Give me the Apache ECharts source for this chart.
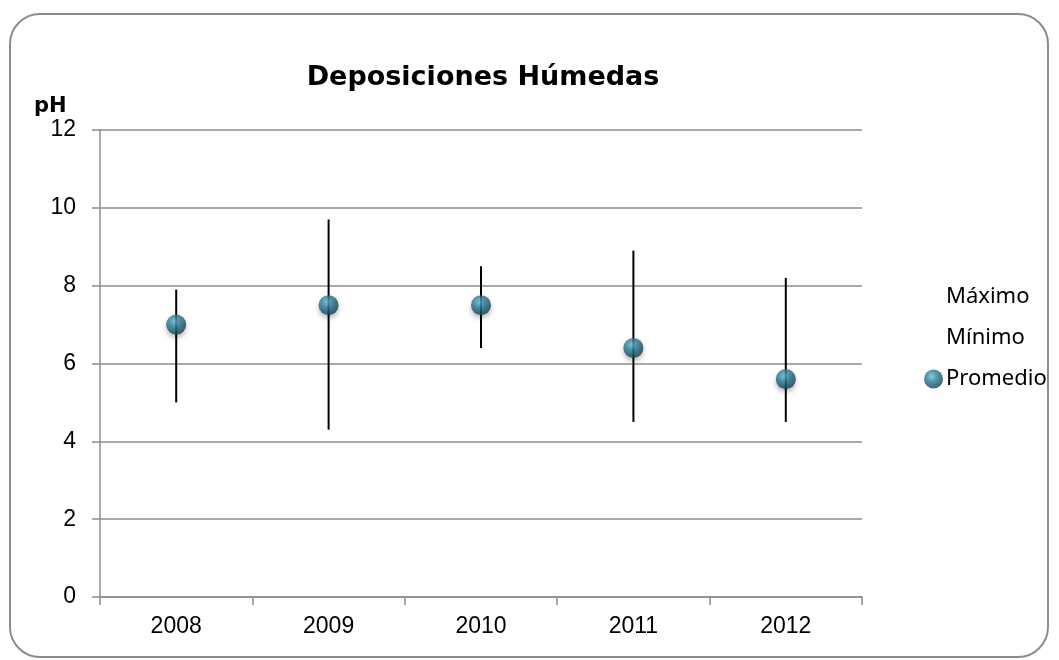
<!DOCTYPE html>
<html>
<head>
<meta charset="utf-8">
<script src="https://cdn.jsdelivr.net/npm/echarts@6/dist/echarts.min.js"></script>
<style>
  html, body { margin: 0; padding: 0; background: #fff; }
  #chart { width: 1059px; height: 660px; }
</style>
</head>
<body>
<div id="chart"></div>
<script>
// datos
var years = ['2008', '2009', '2010', '2011', '2012']
var maximo = [7.9, 9.7, 8.5, 8.9, 8.2]
var minimo = [5.0, 4.3, 6.4, 4.5, 4.5]
var promedio = [7.0, 7.5, 7.5, 6.4, 5.6]

var chart = echarts.init(document.getElementById('chart'))

var gris = '#8c8c8c'
var esfera = new echarts.graphic.RadialGradient(0.4, 0.35, 0.65, [
    { offset: 0, color: '#6fbcd3' },
    { offset: 0.45, color: '#287b96' },
    { offset: 1, color: '#143f4f' }
])

var option = {
    backgroundColor: '#fff',
    animation: false,
    graphic: [{
        type: 'rect',
        shape: { x: 10, y: 14, width: 1038, height: 643, r: 30 },
        style: { fill: 'none', stroke: gris, lineWidth: 2 },
        silent: true
    }],
    title: [{
        text: 'Deposiciones Húmedas',
        left: 478,
        top: 59,
        textAlign: 'center',
        textStyle: { fontFamily: 'DejaVu Sans', fontWeight: 'bold', fontSize: 27, color: '#000' }
    }, {
        text: 'pH',
        left: 29,
        top: 91,
        textStyle: { fontFamily: 'DejaVu Sans', fontWeight: 'bold', fontSize: 21, color: '#000' }
    }],
    legend: {
        orient: 'vertical',
        left: 924,
        top: 286,
        padding: 0,
        itemWidth: 19,
        itemHeight: 19,
        itemGap: 19,
        textStyle: { fontFamily: 'Noto Sans', fontSize: 22, color: '#000', padding: [0, 0, 0, -2] },
        data: [
            { name: 'Máximo', icon: 'none' },
            { name: 'Mínimo', icon: 'none' },
            { name: 'Promedio', icon: 'circle' }
        ]
    },
    grid: { left: 100, right: 197, top: 130, bottom: 63 },
    xAxis: {
        type: 'category',
        data: years,
        boundaryGap: true,
        axisLine: { lineStyle: { color: gris, width: 1.5 } },
        axisTick: { show: true, length: 8, lineStyle: { color: gris, width: 1.5 } },
        axisLabel: { fontFamily: 'Liberation Sans', fontSize: 23, color: '#000', margin: 18 }
    },
    yAxis: {
        type: 'value',
        min: 0,
        max: 12,
        interval: 2,
        axisLine: { show: true, lineStyle: { color: gris, width: 1.5 } },
        axisTick: { show: true, length: 8, lineStyle: { color: gris, width: 1.5 } },
        axisLabel: { fontFamily: 'Liberation Sans', fontSize: 23, color: '#000', margin: 24 },
        splitLine: { lineStyle: { color: gris, width: 1.5 } }
    },
    series: [
        {
            name: 'Máximo',
            type: 'line',
            data: maximo,
            showSymbol: false,
            lineStyle: { opacity: 0 },
            itemStyle: { color: 'transparent' }
        },
        {
            name: 'Mínimo',
            type: 'line',
            data: minimo,
            showSymbol: false,
            lineStyle: { opacity: 0 },
            itemStyle: { color: 'transparent' }
        },
        {
            // lineas maximo-minimo
            type: 'custom',
            z: 2,
            data: years.map(function (y, i) { return [i, minimo[i], maximo[i]] }),
            renderItem: function (params, api) {
                var p1 = api.coord([api.value(0), api.value(1)])
                var p2 = api.coord([api.value(0), api.value(2)])
                return {
                    type: 'line',
                    shape: { x1: p1[0], y1: p1[1], x2: p2[0], y2: p2[1] },
                    style: { stroke: '#000', lineWidth: 2 }
                }
            }
        },
        {
            name: 'Promedio',
            type: 'scatter',
            z: 3,
            data: promedio,
            symbol: 'circle',
            symbolSize: 20,
            itemStyle: {
                color: esfera,
                shadowBlur: 5,
                shadowOffsetY: 3,
                shadowColor: 'rgba(0,0,0,0.35)'
            }
        }
    ]
}
chart.setOption(option)
</script>
</body>
</html>
